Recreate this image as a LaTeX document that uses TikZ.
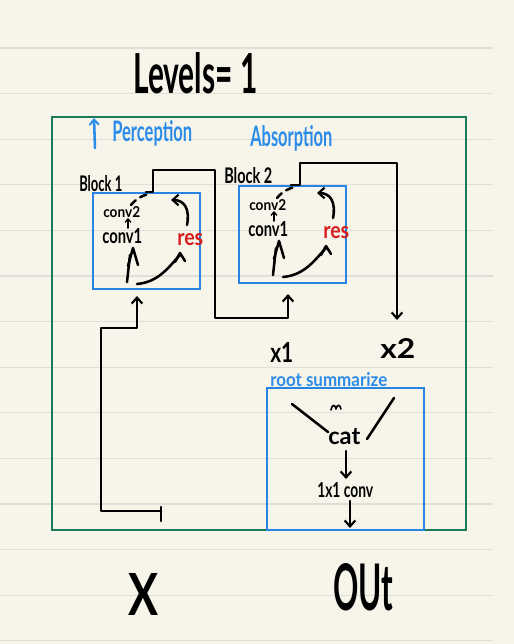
\documentclass[tikz,border=0pt]{standalone}
\usepackage{fontspec}
\setmainfont{Lato}
\usetikzlibrary{arrows.meta}
\newdimen\pxu \pxu=0.75pt
\newcommand\hw[3]{\resizebox{#1\pxu}{#2\pxu}{#3}}
\definecolor{paper}{HTML}{F7F5EA}
\definecolor{rule}{HTML}{DFDED9}
\definecolor{frame}{HTML}{1B7A58}
\definecolor{bbox}{HTML}{2584E4}
\definecolor{tblue}{HTML}{2B8BE9}
\definecolor{tred}{HTML}{D61E1E}
\begin{document}
\begin{tikzpicture}[x=0.75pt,y=-0.75pt,
  wire/.style={line width=1.9pt,line cap=round,line join=round,black},
  fine/.style={line width=1.2pt,line cap=round,line join=round,black},
  barb/.style={-{Straight Barb[length=4.5pt,width=8pt,line width=1.6pt]}},
  lbl/.style={inner sep=0pt,anchor=base west,font=\bfseries},
  sm/.style={lbl},
  bluebox/.style={draw=bbox,line width=2pt,inner sep=0pt},
  greenbox/.style={draw=frame,line width=1.8pt,inner sep=0pt}]
% paper
\fill[paper] (0,0) rectangle (514,644);
\useasboundingbox (0,0) rectangle (514,644);
\foreach \k in {0,...,13}{
  \draw[rule,line width=0.9pt] (0,48+45.6*\k) -- (493,48+45.6*\k);
}
% frames
\node[greenbox,minimum width=310.5pt,minimum height=309.75pt] (outer) at (259,323.5) {};
\node[bluebox,minimum width=80.25pt,minimum height=72pt] (b1) at (146.5,241) {};
\node[bluebox,minimum width=80.25pt,minimum height=72.75pt] (b2) at (292.5,234.5) {};
\node[bluebox,minimum width=117.75pt,minimum height=106.5pt] (summ) at (345.5,459) {};
% titles
\node[lbl] (lev) at (133,93) {\hw{124}{41}{Levels= 1}};
\coordinate (pa) at (95,148);
\coordinate (pb) at (94,118);
\draw[line width=1.9pt,line cap=round,tblue,-{Straight Barb[length=4pt,width=7pt,line width=1.5pt]}] (pa) -- (pb);
\node[lbl,text=tblue] (perc) at (112,141) {\hw{80}{21}{Perception}};
\node[lbl,text=tblue] (absn) at (250,146) {\hw{82}{21}{Absorption}};
\node[sm] (blk1) at (79,191) {\hw{43}{16}{Block 1}};
\node[sm] (blk2) at (224,183) {\hw{48}{16}{Block 2}};
% block contents
\foreach \dx/\dy/\n in {0/0/a,146/-7/b}{
  \begin{scope}[shift={(\dx,\dy)}]
    \node[sm] (c2\n) at (103,217) {\hw{37}{11}{conv2}};
    \node[sm] (c1\n) at (102,243) {\hw{40}{15}{conv1}};
    \node[sm,text=tred] (res\n) at (177,245) {\hw{26}{12}{res}};
    \coordinate (sa\n) at (128,228);
    \coordinate (sb\n) at (128,218);
    \draw[fine,-{Straight Barb[length=2.5pt,width=4.5pt,line width=1pt]}] (sa\n) -- (sb\n);
    \draw[wire,dash pattern=on 5pt off 4pt] (131,205) .. controls (136,199) and (142,195) .. (150,194);
    \coordinate (ra\n) at (187,225);
    \coordinate (rb\n) at (171,200);
    \draw[wire,barb] (ra\n) .. controls (190,210) and (185,200) .. (rb\n);
    \coordinate (ua\n) at (127,282);
    \coordinate (ub\n) at (130,255);
    \draw[wire] (ua\n) -- (ub\n);
    \draw[wire] (128,266) -- (133,248) -- (138,265);
    \coordinate (ca\n) at (137,284);
    \coordinate (cb\n) at (181,254);
    \draw[wire] (ca\n) .. controls (160,282) and (170,265) .. (cb\n);
    \draw[wire] (175,262) -- (180,253) -- (185,261);
  \end{scope}
}
% connectors
\coordinate (xin) at (161,511);
\draw[wire] (161,507) -- (161,521);
\coordinate (b1in) at (137,296);
\draw[wire,barb] (xin) -- (101,511) -- (101,328) -- (137,328) -- (b1in);
\coordinate (b1out) at (146,192);
\coordinate (b2in) at (288,294);
\draw[wire,barb] (b1out) -- (153,192) -- (153,170) -- (215,170) -- (215,318) -- (288,318) -- (b2in);
\coordinate (b2out) at (291,185);
\coordinate (x2in) at (397,320);
\draw[wire,barb] (b2out) -- (300,185) -- (300,163) -- (397,163) -- (x2in);
% x1 x2 and summarize
\node[sm] (x1) at (270,362) {\hw{23}{20}{x1}};
\node[sm] (x2) at (380,358) {\hw{35}{20}{x2}};
\node[lbl,text=tblue] (rs) at (270,386) {\hw{117}{14}{root summarize}};
\node[sm] (cat) at (328,444) {\hw{32}{16}{cat}};
\node[sm] (one) at (317,497) {\hw{56}{15}{1x1 conv}};
\coordinate (la) at (292,404);
\coordinate (lb) at (328,432);
\draw[wire] (la) -- (lb);
\coordinate (ra) at (394,398);
\coordinate (rb) at (367,439);
\draw[wire] (ra) -- (rb);
\draw[fine] (331,410) .. controls (332,404) and (335,404) .. (336,409) .. controls (337,404) and (340,404) .. (341,409);
\draw[wire,barb] (346,451) -- (346,479);
\draw[wire,barb] (350,501) -- (350,528);
% bottom labels
\node[lbl] (X) at (128,615) {\hw{30}{42}{X}};
\node[lbl] (out) at (333,610) {\hw{60}{47}{OUt}};
\end{tikzpicture}
\end{document}
